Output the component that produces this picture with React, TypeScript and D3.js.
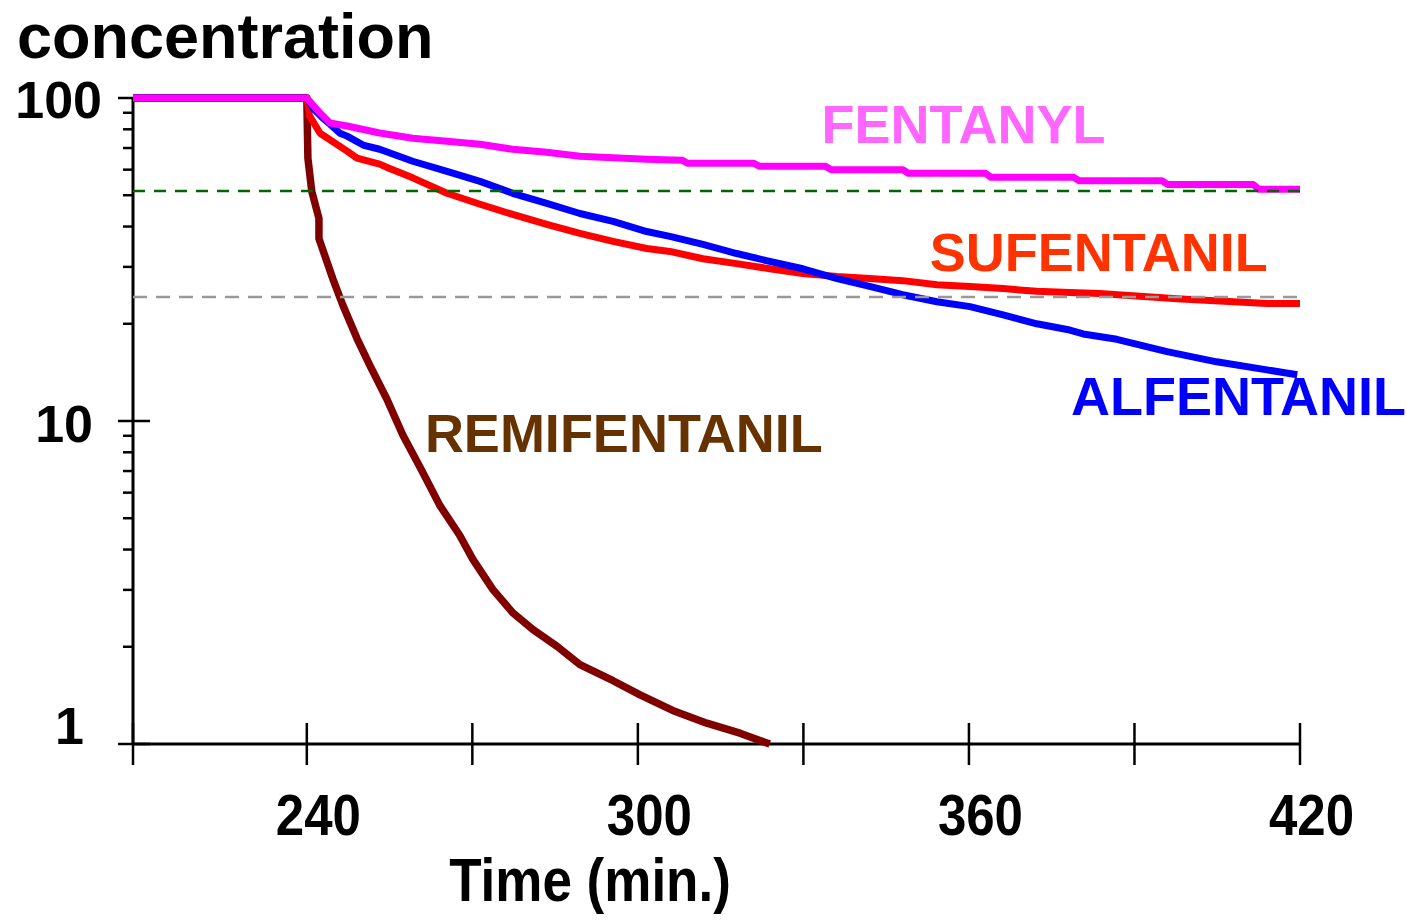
import { useRef, useEffect } from 'react';
import * as d3 from 'd3';

const WIDTH = 1407;
const HEIGHT = 921;
const MARGIN = { top: 98, right: 107, bottom: 177, left: 133 };
const FONT = '"Liberation Sans", Arial, Helvetica, sans-serif';

// time in minutes, concentration in % of the level at end of infusion
const fentanylTime = [208.5, 240, 242.4, 244.2, 247.3, 253.2, 259.2, 265.4, 271.4, 277.3, 283.5, 289.5, 301.6, 308, 309, 321, 322, 334, 335, 348, 349, 363, 364, 379, 380, 395, 396, 411.5, 412.5, 420];
const fentanylConc = [100, 100, 89.8, 83.7, 81.9, 77.9, 75.1, 73.5, 71.9, 69.4, 67.9, 66.0, 64.6, 64.2, 62.8, 62.8, 61.5, 61.5, 60.0, 60.0, 58.5, 58.5, 56.8, 56.8, 55.4, 55.4, 54.0, 54.0, 52.2, 52.2];

const sufentanilTime = [208.5, 240, 240.5, 242.4, 247.3, 249.1, 253.2, 255.0, 259.2, 265.4, 271.4, 277.3, 283.5, 289.5, 295.5, 301.6, 305.8, 311.8, 317.9, 323.9, 329.9, 336.1, 342.0, 348.0, 354.2, 360.2, 366.2, 372.3, 378.3, 383.7, 397.7, 414.0, 420];
const sufentanilConc = [100, 100, 88, 77.8, 68.5, 65.1, 62.4, 60.5, 56.6, 50.7, 46.9, 43.6, 40.6, 38.1, 36.0, 34.2, 33.5, 31.8, 30.7, 29.6, 28.6, 28.0, 27.6, 27.2, 26.4, 26.1, 25.7, 25.2, 25.0, 24.8, 23.9, 23.1, 23.1];

const alfentanilTime = [208.5, 240, 241.1, 242.9, 244.2, 246.0, 247.3, 250.2, 253.2, 259.2, 265.4, 271.4, 277.3, 283.5, 289.5, 295.5, 301.6, 305.8, 311.8, 317.9, 323.9, 329.9, 336.1, 342.0, 348.0, 354.2, 360.2, 366.2, 372.3, 377.8, 380.7, 386.8, 395.9, 404.9, 414.0, 419.5];
const alfentanilConc = [100, 100, 93.1, 86.7, 83.0, 77.8, 76.2, 71.5, 69.4, 63.7, 59.3, 55.2, 50.7, 47.2, 43.9, 41.5, 38.6, 37.3, 35.2, 33.0, 31.2, 29.6, 27.6, 26.1, 24.6, 23.4, 22.6, 21.3, 20.0, 19.2, 18.6, 17.9, 16.4, 15.25, 14.4, 13.9];

const remifentanilTime = [208.5, 240, 240.2, 240.9, 242.2, 242.2, 244.7, 246.5, 249.1, 251.4, 254.5, 257.4, 261.0, 264.1, 267.7, 270.1, 273.7, 277.3, 281.0, 285.3, 289.5, 295.5, 300.4, 306.3, 312.5, 318.5, 323.9];
const remifentanilConc = [100, 100, 65, 51.4, 42.4, 36.7, 27.6, 22.9, 18.0, 14.9, 11.7, 9.05, 6.94, 5.48, 4.43, 3.73, 3.01, 2.55, 2.26, 2.01, 1.76, 1.57, 1.42, 1.27, 1.16, 1.08, 1.0];

const drugNames = ['REMIFENTANIL', 'SUFENTANIL', 'ALFENTANIL', 'FENTANYL'];
// where each name sits, in (time, concentration)
const labelTime = [261.4, 352.9, 378.5, 333.3];
const labelConc = [8.0, 29.2, 10.4, 72.5];

const xDomain = [208.5, 420];
const xTickLabels = [240, 300, 360, 420];
const xOtherTicks = [208.5, 270, 330, 390];
const yDomain = [1, 100];
const yTickLabels = [100, 10, 1];
const referenceLevels = [51.5, 24.2];

const LINE_COLORS = ['#800000', '#FF0000', '#0000FF', '#FF00FF'];
const LINE_WIDTHS = [7.5, 7, 7, 7];
const LABEL_COLORS = ['#663300', '#FF3300', '#0000FF', '#FF66FF'];
const REF_COLORS = ['#006600', '#999999'];
const REF_DASH = ['12 9', '14 9'];

const App = () => {
  const svgRef = useRef<SVGSVGElement | null>(null);

  useEffect(() => {
    const svg = d3.select(svgRef.current);
    svg.selectAll('*').remove();

    const x = d3
      .scaleLinear()
      .domain(xDomain)
      .range([MARGIN.left, WIDTH - MARGIN.right]);
    const y = d3
      .scaleLog()
      .domain(yDomain)
      .range([HEIGHT - MARGIN.bottom, MARGIN.top]);

    svg.append('rect').attr('width', WIDTH).attr('height', HEIGHT).attr('fill', 'white');

    // axes
    const axisY = y(1);
    svg
      .append('line')
      .attr('x1', x(xDomain[0]))
      .attr('x2', x(xDomain[0]))
      .attr('y1', y(100))
      .attr('y2', axisY)
      .attr('stroke', 'black')
      .attr('stroke-width', 3);
    svg
      .append('line')
      .attr('x1', x(xDomain[0]))
      .attr('x2', x(xDomain[1]))
      .attr('y1', axisY)
      .attr('y2', axisY)
      .attr('stroke', 'black')
      .attr('stroke-width', 3);

    // y ticks (log)
    svg
      .selectAll('.ytick')
      .data(y.ticks())
      .join('line')
      .attr('x1', (d) => (Number.isInteger(Math.log10(d)) ? x(xDomain[0]) - 15 : x(xDomain[0]) - 10))
      .attr('x2', (d) => (Number.isInteger(Math.log10(d)) ? x(xDomain[0]) + 17 : x(xDomain[0])))
      .attr('y1', (d) => y(d))
      .attr('y2', (d) => y(d))
      .attr('stroke', 'black')
      .attr('stroke-width', 2.5);

    // x ticks
    svg
      .selectAll('.xtick')
      .data([...xOtherTicks, ...xTickLabels])
      .join('line')
      .attr('x1', (d) => x(d))
      .attr('x2', (d) => x(d))
      .attr('y1', axisY - 21)
      .attr('y2', axisY + 21)
      .attr('stroke', 'black')
      .attr('stroke-width', 2.5);

    // curves
    const line = d3
      .line<[number, number]>()
      .x((d) => x(d[0]))
      .y((d) => y(d[1]));
    const curves = [
      [remifentanilTime, remifentanilConc],
      [sufentanilTime, sufentanilConc],
      [alfentanilTime, alfentanilConc],
      [fentanylTime, fentanylConc],
    ];
    curves.forEach(([t, c], i) => {
      const pts = t.map((v, j) => [v, c[j]] as [number, number]);
      svg
        .append('path')
        .datum(pts)
        .attr('d', line)
        .attr('fill', 'none')
        .attr('stroke', LINE_COLORS[i])
        .attr('stroke-width', LINE_WIDTHS[i])
        .attr('stroke-linejoin', 'round');
    });

    // dashed reference levels
    svg
      .selectAll('.ref')
      .data(referenceLevels)
      .join('line')
      .attr('x1', x(xDomain[0]))
      .attr('x2', x(xDomain[1]))
      .attr('y1', (d) => y(d))
      .attr('y2', (d) => y(d))
      .attr('stroke', (d, i) => REF_COLORS[i])
      .attr('stroke-width', 2.5)
      .attr('stroke-dasharray', (d, i) => REF_DASH[i]);

    // drug names
    svg
      .selectAll('.name')
      .data(drugNames)
      .join('text')
      .attr('x', (d, i) => x(labelTime[i]))
      .attr('y', (d, i) => y(labelConc[i]))
      .attr('fill', (d, i) => LABEL_COLORS[i])
      .attr('font-family', FONT)
      .attr('font-weight', 'bold')
      .attr('font-size', 54)
      .text((d) => d);

    // y tick labels
    const yLabelX = [102, 93, 84];
    const yLabelDy = [20, 21, 0];
    svg
      .selectAll('.ylab')
      .data(yTickLabels)
      .join('text')
      .attr('x', (d, i) => yLabelX[i])
      .attr('y', (d, i) => y(d) + yLabelDy[i])
      .attr('text-anchor', 'end')
      .attr('font-family', FONT)
      .attr('font-weight', 'bold')
      .attr('font-size', 52)
      .text((d) => d);

    // x tick labels
    svg
      .selectAll('.xlab')
      .data(xTickLabels)
      .join('text')
      .attr('transform', (d) => `translate(${x(d) + 11.5},${axisY + 91}) scale(1,1.13)`)
      .attr('text-anchor', 'middle')
      .attr('font-family', FONT)
      .attr('font-weight', 'bold')
      .attr('font-size', 51)
      .text((d) => d);

    // axis titles
    svg
      .append('text')
      .attr('transform', `translate(590,901) scale(1,1.14)`)
      .attr('text-anchor', 'middle')
      .attr('font-family', FONT)
      .attr('font-weight', 'bold')
      .attr('font-size', 53)
      .text('Time (min.)');
    svg
      .append('text')
      .attr('x', 17)
      .attr('y', 58)
      .attr('font-family', FONT)
      .attr('font-weight', 'bold')
      .attr('font-size', 63)
      .text('concentration');
  }, []);

  return (
    <svg
      ref={svgRef}
      width={WIDTH}
      height={HEIGHT}
      style={{ position: 'absolute', left: 0, top: 0 }}
    />
  );
};

export default App;
